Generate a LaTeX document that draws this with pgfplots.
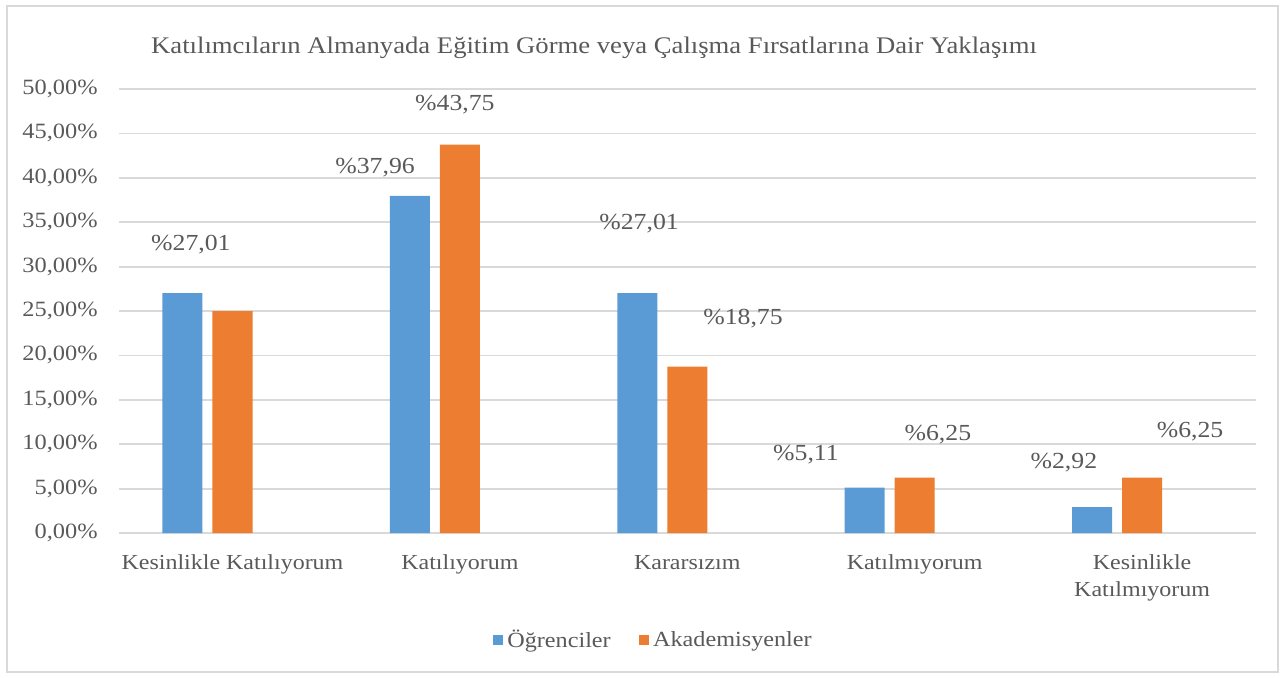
\documentclass[border=0pt]{standalone}
\usepackage{pgfplots}
\pgfplotsset{compat=1.18}
\usepackage{fontspec}
\setmainfont{Liberation Serif}[FakeStretch=1.12]
\definecolor{cblue}{HTML}{5B9BD5}
\definecolor{corange}{HTML}{ED7D31}
\definecolor{tgray}{HTML}{595959}
\definecolor{ggray}{HTML}{D9D9D9}
\newcommand{\tickf}{\fontsize{10.9}{13}\selectfont}
\newcommand{\catf}{\fontsize{10.7}{13.5}\selectfont}
\newcommand{\legf}{\fontsize{10.8}{13}\selectfont}
\newcommand{\lblf}{\fontsize{11.5}{13}\selectfont}
\newcommand{\titf}{\fontsize{11.9}{14}\selectfont}
\begin{document}
\begin{tikzpicture}
\useasboundingbox (0,0) rectangle (642.5pt,-338.5pt);
\draw[ggray, line width=0.8pt] (3.5pt,-3pt) rectangle (639pt,-336pt);
\node[font=\titf, text=tgray] at (297pt,-23.8pt) {Katılımcıların Almanyada Eğitim Görme veya Çalışma Fırsatlarına Dair Yaklaşımı};
\begin{axis}[
  at={(59.4pt,-266.5pt)}, anchor=south west,
  width=568.5pt, height=222pt, scale only axis,
  xmin=-0.5, xmax=4.5, ymin=0, ymax=50,
  axis line style={draw=none},
  major tick length=0pt,
  ymajorgrids, grid style={ggray, line width=0.9pt},
  ytick={0,5,...,50},
  yticklabel={\pgfmathprintnumber[fixed,fixed zerofill,precision=2,use comma]{\tick}\%},
  /pgf/number format/assume math mode=true,
  yticklabel style={font=\tickf, text=tgray, xshift=-7pt},
  xtick={0,1,2,3,4},
  xticklabels={Kesinlikle Katılıyorum, Katılıyorum, Kararsızım, Katılmıyorum, {Kesinlikle\\Katılmıyorum}},
  xticklabel style={font=\catf, text=tgray, align=center, anchor=north, yshift=-7.5pt},
  legend columns=2,
  legend style={at={(0.471,-0.241)}, anchor=center, draw=none, font=\legf, text=tgray,
     /tikz/every even column/.append style={column sep=12pt}},
  legend image code/.code={\fill[#1] (0pt,-2.6pt) rectangle (5.2pt,2.6pt);},
  clip=false,
]
\addplot[ybar, bar width=0.176, bar shift=-0.22, fill=cblue, draw=none] coordinates {(0,27.01) (1,37.96) (2,27.01) (3,5.11) (4,2.92)};
\addlegendentry{Öğrenciler}
\addplot[ybar, bar width=0.176, bar shift=0, fill=corange, draw=none] coordinates {(0,25) (1,43.75) (2,18.75) (3,6.25) (4,6.25)};
\addlegendentry{Akademisyenler}
\begin{scope}[every node/.style={font=\lblf, text=tgray}]
\node at (axis cs:-0.183,32.5) {\%27,01};
\node at (axis cs:0.627,41.2) {\%37,96};
\node at (axis cs:0.978,48.3) {\%43,75};
\node at (axis cs:1.788,34.8) {\%27,01};
\node at (axis cs:2.245,24.2) {\%18,75};
\node at (axis cs:2.522,8.8) {\%5,11};
\node at (axis cs:3.102,11.1) {\%6,25};
\node at (axis cs:3.656,7.9) {\%2,92};
\node at (axis cs:4.211,11.4) {\%6,25};
\end{scope}
\end{axis}
\end{tikzpicture}
\end{document}
